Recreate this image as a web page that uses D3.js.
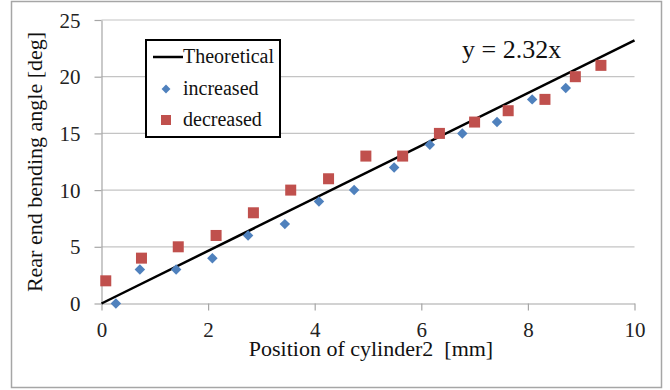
<!DOCTYPE html>
<html>
<head>
<meta charset="utf-8">
<script src="https://cdn.jsdelivr.net/npm/d3@7"></script>
<style>
  html, body { margin: 0; padding: 0; background: #fff; }
</style>
</head>
<body>
<svg id="chart" width="670" height="390"></svg>
<script>
// Measured bending angle while the cylinder position was increased / decreased
const increasedX = [0.27, 0.72, 1.40, 2.08, 2.75, 3.44, 4.08, 4.74, 5.49, 6.16, 6.77, 7.42, 8.08, 8.71];
const increasedY = [0, 3, 3, 4, 6, 7, 9, 10, 12, 14, 15, 16, 18, 19];
const decreasedX = [0.08, 0.75, 1.44, 2.15, 2.85, 3.55, 4.26, 4.96, 5.65, 6.34, 7.00, 7.63, 8.32, 8.89, 9.37];
const decreasedY = [2, 4, 5, 6, 8, 10, 11, 13, 13, 15, 16, 17, 18, 20, 21];
// Theoretical relation y = slope * x
const slope = 2.32;
const theoryX = [0, 10];
const xTicks = [0, 2, 4, 6, 8, 10];
const yTicks = [0, 5, 10, 15, 20, 25];
const legendLabels = ["Theoretical", "increased", "decreased"];

const FONT = '"Liberation Serif"';
const blue = "#4f81bd", red = "#c0504d";
const svg = d3.select("#chart");

// outer frame
svg.append("rect").attr("x", 11.5).attr("y", 1.5).attr("width", 650).attr("height", 386)
  .attr("fill", "#fff").attr("stroke", "#a6a6a6").attr("stroke-width", 1.5);

const x = d3.scaleLinear().domain([0, 10]).range([101.5, 634.5]);
const y = d3.scaleLinear().domain([0, 25]).range([303.5, 20]);

// horizontal gridlines
svg.append("g").selectAll("line").data(yTicks.filter(d => d > 0)).join("line")
  .attr("x1", x(0)).attr("x2", x(10)).attr("y1", d => y(d)).attr("y2", d => y(d))
  .attr("stroke", "#c4c4c4").attr("stroke-width", 1.2);

// x axis
const xAxis = svg.append("g").attr("transform", `translate(0,${y(0)})`)
  .call(d3.axisBottom(x).tickValues(xTicks).tickSize(7).tickSizeOuter(0).tickPadding(0).tickFormat(d3.format("d")));
xAxis.attr("font-family", null).attr("font-size", null);
xAxis.select(".domain").attr("stroke", "#a6a6a6").attr("stroke-width", 1.2);
xAxis.selectAll(".tick line").attr("stroke", "#a6a6a6").attr("stroke-width", 1.2);
xAxis.selectAll(".tick text").attr("dy", null).attr("y", 33)
  .style("font-family", FONT).style("font-size", "21px").attr("fill", "#222");

// y axis
const yAxis = svg.append("g").attr("transform", `translate(${x(0)},0)`)
  .call(d3.axisLeft(y).tickValues(yTicks).tickSize(7).tickSizeOuter(0).tickPadding(14).tickFormat(d3.format("d")));
yAxis.attr("font-family", null).attr("font-size", null);
yAxis.select(".domain").attr("stroke", "#a6a6a6").attr("stroke-width", 1.2);
yAxis.selectAll(".tick line").attr("stroke", "#a6a6a6").attr("stroke-width", 1.2);
yAxis.selectAll(".tick text").attr("dy", "0.34em")
  .style("font-family", FONT).style("font-size", "21px").attr("fill", "#222");

// theoretical line
svg.append("path")
  .datum(theoryX.map(v => [v, slope * v]))
  .attr("d", d3.line().x(d => x(d[0])).y(d => y(d[1])))
  .attr("fill", "none").attr("stroke", "#000").attr("stroke-width", 2.5);

// increased: diamonds
const diamond = d3.symbol().type(d3.symbolDiamond2).size(70);
svg.append("g").selectAll("path").data(increasedX.map((v, i) => [v, increasedY[i]])).join("path")
  .attr("transform", d => `translate(${x(d[0])},${y(d[1])})`)
  .attr("d", diamond).attr("fill", blue);

// decreased: squares
const sq = 11;
svg.append("g").selectAll("rect").data(decreasedX.map((v, i) => [v, decreasedY[i]])).join("rect")
  .attr("x", d => x(d[0]) - sq / 2).attr("y", d => y(d[1]) - sq / 2)
  .attr("width", sq).attr("height", sq).attr("fill", red);

// equation label
svg.append("text").attr("x", 462).attr("y", 58).attr("fill", "#111")
  .style("font-family", FONT).style("font-size", "26px").text(`y = ${slope}x`);

// axis titles
svg.append("text").attr("x", 371).attr("y", 356).attr("text-anchor", "middle").attr("fill", "#111")
  .style("font-family", FONT).style("font-size", "22px")
  .style("white-space", "pre").text("Position of cylinder2  [mm]");
svg.append("text").attr("transform", "translate(42,162) rotate(-90)").attr("text-anchor", "middle")
  .attr("fill", "#111").style("font-family", FONT).style("font-size", "22px")
  .text("Rear end bending angle [deg]");

// legend
const lg = svg.append("g");
lg.append("rect").attr("x", 146).attr("y", 40).attr("width", 134).attr("height", 97)
  .attr("fill", "#fff").attr("stroke", "#000").attr("stroke-width", 2);
lg.append("line").attr("x1", 153).attr("x2", 183).attr("y1", 57).attr("y2", 57)
  .attr("stroke", "#000").attr("stroke-width", 2.5);
lg.append("path").attr("transform", "translate(166,89)").attr("d", d3.symbol().type(d3.symbolDiamond2).size(50)).attr("fill", blue);
lg.append("rect").attr("x", 161).attr("y", 115).attr("width", 10).attr("height", 10).attr("fill", red);
lg.selectAll("text").data(legendLabels).join("text")
  .attr("x", 183).attr("y", (d, i) => 63 + i * 31.7).attr("fill", "#111")
  .style("font-family", FONT).style("font-size", "20px").text(d => d);
</script>
</body>
</html>
